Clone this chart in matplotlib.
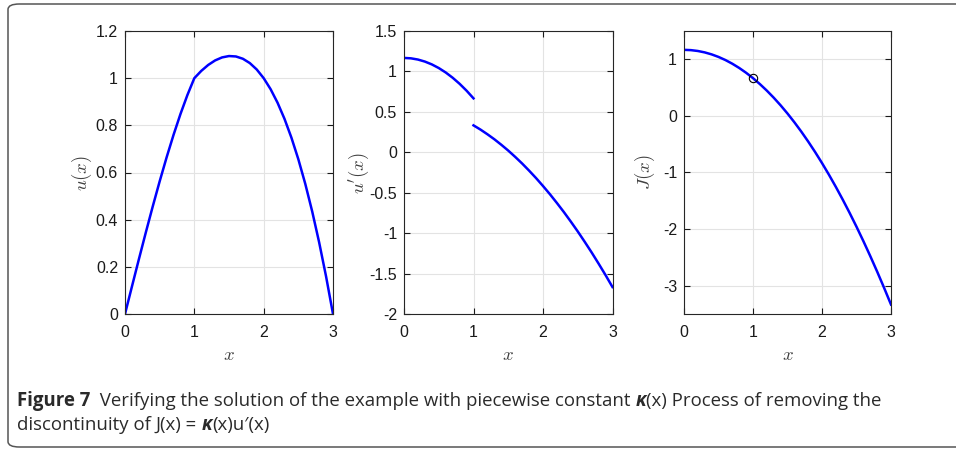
import matplotlib
matplotlib.use("Agg")
import matplotlib.pyplot as plt
from matplotlib.patches import FancyBboxPatch

# values
x_all = [0.0, 0.1, 0.2, 0.3, 0.4, 0.5, 0.6, 0.7, 0.8, 0.9, 1.0,
         1.1, 1.2, 1.3, 1.4, 1.5, 1.6, 1.7, 1.8, 1.9, 2.0,
         2.1, 2.2, 2.3, 2.4, 2.5, 2.6, 2.7, 2.8, 2.9, 3.0]
u_vals = [0.0, 0.1165, 0.232, 0.3455, 0.456, 0.5625, 0.664, 0.7595, 0.848, 0.9285, 1.0,
          1.0308, 1.056, 1.0753, 1.088, 1.0938, 1.092, 1.0823, 1.064, 1.0368, 1.0,
          0.9533, 0.896, 0.8278, 0.748, 0.6563, 0.552, 0.4348, 0.304, 0.1593, 0.0]

x_left = [0.0, 0.1, 0.2, 0.3, 0.4, 0.5, 0.6, 0.7, 0.8, 0.9, 1.0]
du_left = [1.167, 1.162, 1.147, 1.122, 1.087, 1.042, 0.987, 0.922, 0.847, 0.762, 0.667]
x_right = [1.0, 1.1, 1.2, 1.3, 1.4, 1.5, 1.6, 1.7, 1.8, 1.9, 2.0,
           2.1, 2.2, 2.3, 2.4, 2.5, 2.6, 2.7, 2.8, 2.9, 3.0]
du_right = [0.333, 0.281, 0.223, 0.161, 0.093, 0.021, -0.057, -0.139, -0.227, -0.319, -0.417,
            -0.519, -0.627, -0.739, -0.857, -0.979, -1.107, -1.239, -1.377, -1.519, -1.667]

J_vals = [1.167, 1.162, 1.147, 1.122, 1.087, 1.042, 0.987, 0.922, 0.847, 0.762, 0.667,
          0.562, 0.447, 0.322, 0.187, 0.042, -0.113, -0.278, -0.453, -0.638, -0.833,
          -1.038, -1.253, -1.478, -1.713, -1.958, -2.213, -2.478, -2.753, -3.038, -3.333]
J_mark = (1.0, 0.667)

plt.rcParams['mathtext.fontset'] = 'cm'
plt.rcParams['font.family'] = ['Liberation Sans', 'DejaVu Sans']

W, H = 956, 450
fig = plt.figure(figsize=(W / 100, H / 100), dpi=100)

# frame around figure + caption
frame = FancyBboxPatch((8 / W, 1 - 447 / H), 1.05, 443 / H,
                       boxstyle="round,pad=0,rounding_size=0.012",
                       transform=fig.transFigure, fill=False,
                       edgecolor='#555555', linewidth=1.1, clip_on=False)
fig.patches.append(frame)


def make_ax(left, right, top=31, bottom=314):
    return fig.add_axes([left / W, 1 - bottom / H, (right - left) / W, (bottom - top) / H])


def style(ax, ylim, yticks, ylabel, labelx):
    ax.set_xlim(0, 3)
    ax.set_ylim(*ylim)
    ax.set_xticks([0, 1, 2, 3])
    ax.set_yticks(yticks)
    ax.set_yticklabels([f"{t:g}" for t in yticks])
    ax.grid(True, color='#e3e3e3', linewidth=0.8)
    ax.set_axisbelow(True)
    ax.tick_params(direction='in', length=4, width=0.8, top=True, right=True,
                   labelsize=11.5, colors='#1a1a1a', pad=5)
    ax.tick_params(axis='x', pad=8)
    for s in ax.spines.values():
        s.set_color('#262626')
        s.set_linewidth(0.8)
    ax.set_xlabel('$x$', fontsize=13.5, color='#404040')
    ax.set_ylabel(ylabel, fontsize=13.5, color='#404040', va='center')
    ax.yaxis.set_label_coords(labelx, 0.5)
    ax.xaxis.set_label_coords(0.5, -0.115)


ax1 = make_ax(125, 333)
ax1.plot(x_all, u_vals, color='#0000ff', linewidth=1.8)
style(ax1, (0, 1.2), [0, 0.2, 0.4, 0.6, 0.8, 1.0, 1.2], '$u(x)$', -0.207)

ax2 = make_ax(404, 612.5)
ax2.plot(x_left, du_left, color='#0000ff', linewidth=1.8)
ax2.plot(x_right, du_right, color='#0000ff', linewidth=1.8)
style(ax2, (-2, 1.5), [-2, -1.5, -1, -0.5, 0, 0.5, 1, 1.5], "$u'(x)$", -0.215)

ax3 = make_ax(684, 891)
ax3.plot(x_all, J_vals, color='#0000ff', linewidth=1.8)
ax3.plot([J_mark[0]], [J_mark[1]], 'o', mfc='none', mec='black', ms=6, mew=0.8)
style(ax3, (-3.5, 1.5), [-3, -2, -1, 0, 1], '$J(x)$', -0.19)

# caption, placed piece by piece
renderer = fig.canvas.get_renderer()
cap_font = ['Open Sans', 'DejaVu Sans']
cap_color = '#2a2a2a'


def write_line(pieces, x0, y0, size=13.4):
    x = x0 / W
    for txt, weight, style_ in pieces:
        t = fig.text(x, 1 - y0 / H, txt, fontsize=size, fontweight=weight,
                     fontstyle=style_, family=cap_font, color=cap_color,
                     va='baseline', ha='left')
        bb = t.get_window_extent(renderer)
        x = (bb.x1) / W


write_line([("Figure 7", 'bold', 'normal'),
            ("  Verifying the solution of the example with piecewise constant ", 'normal', 'normal'),
            ("κ", 'bold', 'italic'),
            ("(x) Process of removing the", 'normal', 'normal')], 17, 406)
write_line([("discontinuity of ", 'normal', 'normal'),
            ("J(x) = ", 'normal', 'normal'),
            ("κ", 'bold', 'italic'),
            ("(x)u′(x)", 'normal', 'normal')], 17, 430)

fig.savefig('out.png', dpi=100)
